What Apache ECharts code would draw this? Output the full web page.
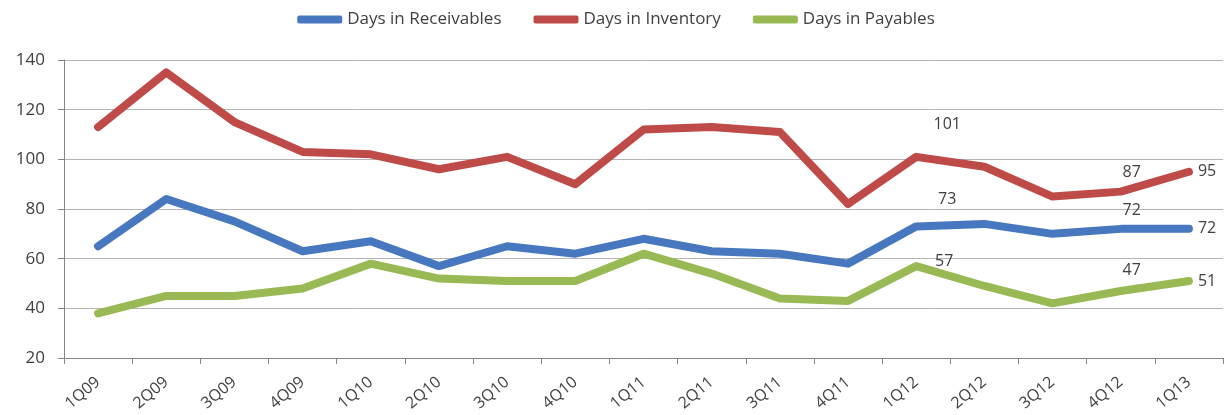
<!DOCTYPE html>
<html>
<head>
<meta charset="utf-8">
<script src="https://cdn.jsdelivr.net/npm/echarts@6/dist/echarts.min.js"></script>
<style>
  html, body { margin: 0; padding: 0; background: #fff; }
  #chart { width: 1232px; height: 415px; }
</style>
</head>
<body>
<div id="chart"></div>
<script>
  // quarters on the x axis
  var quarters = ['1Q09', '2Q09', '3Q09', '4Q09', '1Q10', '2Q10', '3Q10', '4Q10',
    '1Q11', '2Q11', '3Q11', '4Q11', '1Q12', '2Q12', '3Q12', '4Q12', '1Q13'];

  var receivables = [65, 84, 75, 63, 67, 57, 65, 62, 68, 63, 62, 58, 73, 74, 70, 72, 72];
  var inventory = [113, 135, 115, 103, 102, 96, 101, 90, 112, 113, 111, 82, 101, 97, 85, 87, 95];
  var payables = [38, 45, 45, 48, 58, 52, 51, 51, 62, 54, 44, 43, 57, 49, 42, 47, 51];

  // which points get a value label, and how far the label is moved from the point
  var labelOffsets = {
    inventory: { 12: [31, -32], 15: [11, -19], 16: 'right' },
    receivables: { 12: [31, -27], 15: [11, -18], 16: 'right' },
    payables: { 12: [28, -5], 15: [11, -21], 16: 'right' }
  };

  var textColor = '#404040';
  var font = 'Open Sans';

  function buildData(values, offsets) {
    return values.map(function (v, i) {
      var o = offsets[i];
      if (!o) return v;
      var label = { show: true, color: textColor, fontSize: 16, fontFamily: font };
      if (o === 'right') {
        label.position = 'right';
        label.distance = 9;
      } else {
        label.position = 'inside';
        label.offset = o;
      }
      return { value: v, label: label };
    });
  }

  function lineSeries(name, color, values, offsets) {
    return {
      name: name,
      type: 'line',
      data: buildData(values, offsets),
      symbol: 'circle',
      symbolSize: 0,
      showSymbol: true,
      lineStyle: { width: 8, color: color, cap: 'round', join: 'round' },
      itemStyle: { color: color },
      label: { show: false },
      emphasis: { disabled: true }
    };
  }

  var chart = echarts.init(document.getElementById('chart'));
  chart.setOption({
    animation: false,
    color: ['#4677BF', '#BE4B48', '#98B954'],
    legend: {
      top: 6,
      left: 'center',
      itemWidth: 45,
      itemHeight: 8,
      itemGap: 32,
      icon: 'roundRect',
      textStyle: { color: textColor, fontSize: 17, fontFamily: font }
    },
    grid: { left: 64, right: 9, top: 60, bottom: 57 },
    xAxis: {
      type: 'category',
      data: quarters,
      boundaryGap: true,
      axisLine: { lineStyle: { color: '#868686', width: 1 } },
      axisTick: { show: true, length: 6, lineStyle: { color: '#868686' } },
      axisLabel: { rotate: 40, color: textColor, fontSize: 16, fontFamily: font, margin: 22 }
    },
    yAxis: {
      type: 'value',
      min: 20,
      max: 140,
      interval: 20,
      axisLine: { show: true, lineStyle: { color: '#868686', width: 1 } },
      axisTick: { show: true, length: 6, lineStyle: { color: '#868686' } },
      splitLine: { lineStyle: { color: '#b4b4b4', width: 1 } },
      axisLabel: { color: textColor, fontSize: 17, fontFamily: font, margin: 19 }
    },
    series: [
      lineSeries('Days in Receivables', '#4677BF', receivables, labelOffsets.receivables),
      lineSeries('Days in Inventory', '#BE4B48', inventory, labelOffsets.inventory),
      lineSeries('Days in Payables', '#98B954', payables, labelOffsets.payables)
    ]
  });
</script>
</body>
</html>
